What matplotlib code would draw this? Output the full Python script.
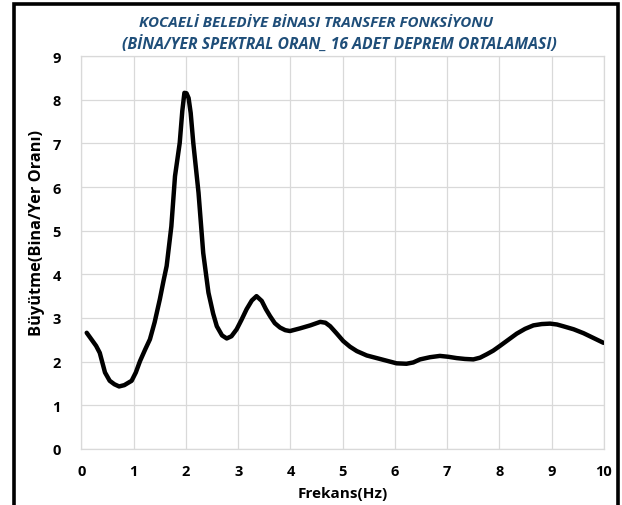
import matplotlib
matplotlib.use("Agg")
import matplotlib.pyplot as plt
from matplotlib.patches import Rectangle

# ortalama transfer fonksiyonu (bina/yer spektral oranı)
frekans = [0.10, 0.19, 0.28, 0.35, 0.45, 0.54, 0.63, 0.72, 0.82, 0.96, 1.04, 1.12,
           1.22, 1.31, 1.40, 1.50, 1.57, 1.63, 1.72, 1.79, 1.88, 1.93, 1.97, 2.01,
           2.05, 2.09, 2.14, 2.24, 2.33, 2.43, 2.52, 2.59, 2.69, 2.78, 2.87, 2.97,
           3.06, 3.16, 3.26, 3.35, 3.45, 3.53, 3.61, 3.70, 3.80, 3.90, 3.99, 4.18,
           4.38, 4.57, 4.67, 4.76, 4.88, 5.01, 5.14, 5.27, 5.46, 5.65, 5.84, 6.03,
           6.22, 6.35, 6.48, 6.67, 6.86, 7.02, 7.18, 7.34, 7.50, 7.63, 7.76, 7.88,
           8.01, 8.17, 8.33, 8.49, 8.65, 8.81, 8.97, 9.10, 9.22, 9.42, 9.61, 9.80,
           9.99]
buyutme = [2.66, 2.51, 2.36, 2.20, 1.75, 1.56, 1.48, 1.43, 1.46, 1.56, 1.75, 2.01,
           2.28, 2.51, 2.90, 3.43, 3.85, 4.19, 5.10, 6.25, 7.01, 7.75, 8.16, 8.15,
           8.04, 7.70, 7.01, 5.87, 4.49, 3.58, 3.10, 2.81, 2.60, 2.53, 2.58, 2.74,
           2.95, 3.20, 3.40, 3.50, 3.39, 3.20, 3.04, 2.88, 2.78, 2.72, 2.70, 2.76,
           2.83, 2.91, 2.89, 2.81, 2.65, 2.47, 2.34, 2.24, 2.14, 2.08, 2.02, 1.96,
           1.95, 1.98, 2.05, 2.10, 2.13, 2.11, 2.08, 2.06, 2.05, 2.09, 2.17, 2.25,
           2.36, 2.50, 2.64, 2.75, 2.83, 2.86, 2.87, 2.85, 2.81, 2.74, 2.65, 2.54,
           2.43]

x_ticks = list(range(0, 11))
y_ticks = list(range(0, 10))

plt.rcParams['font.family'] = ['Open Sans', 'DejaVu Sans']

fig = plt.figure(figsize=(6.22, 5.06), dpi=100)
ax = fig.add_axes([0.131, 0.111, 0.840, 0.776])

ax.plot(frekans, buyutme, color='black', linewidth=3.2,
        solid_joinstyle='round', solid_capstyle='round', zorder=3)

ax.set_xlim(0, 10)
ax.set_ylim(0, 9)
ax.set_xticks(x_ticks)
ax.set_yticks(y_ticks)
ax.grid(True, color='#d9d9d9', linewidth=0.9)
for s in ax.spines.values():
    s.set_color('#d9d9d9')
    s.set_linewidth(0.9)
ax.tick_params(length=0, labelsize=10.5)
ax.tick_params(axis='x', pad=11)
ax.tick_params(axis='y', pad=15)
for lbl in ax.get_xticklabels() + ax.get_yticklabels():
    lbl.set_fontweight('bold')

ax.set_xlabel('Frekans(Hz)', fontsize=11, fontweight='bold', labelpad=6)
fig.text(0.060, 0.540, 'Büyütme(Bina/Yer Oranı)', rotation=90, fontsize=11.8,
         fontweight='bold', ha='center', va='center')

fig.text(0.508, 0.955, 'KOCAELİ BELEDİYE BİNASI TRANSFER FONKSİYONU',
         fontsize=10.9, fontweight='bold', fontstyle='italic', color='#1f4e79',
         ha='center', va='center')
fig.text(0.545, 0.910, '(BİNA/YER SPEKTRAL ORAN_ 16 ADET DEPREM ORTALAMASI)',
         fontsize=11.3, fontweight='bold', fontstyle='italic', color='#1f4e79',
         ha='center', va='center')

# dış çerçeve
fig.patches.append(Rectangle((0.022, -0.05), 0.971, 1.04, transform=fig.transFigure,
                             fill=False, edgecolor='black', linewidth=2.6))

fig.savefig('out.png', dpi=100)
